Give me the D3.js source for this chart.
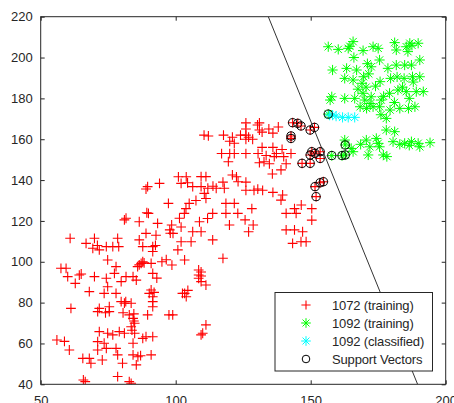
<!DOCTYPE html>
<html>
<head>
<meta charset="utf-8">
<script src="https://cdn.jsdelivr.net/npm/d3@7"></script>
<style>
  body { margin: 0; background: #fff; }
  svg { display: block; font-family: "Liberation Sans", Arial, sans-serif; }
</style>
</head>
<body>
<div id="chart"></div>
<script>
// ---- data ----
const xTicks = [50, 100, 150, 200];
const yTicks = [40, 60, 80, 100, 120, 140, 160, 180, 200, 220];
const legendLabels = ["1072 (training)", "1092 (training)", "1092 (classified)", "Support Vectors"];

// 1072 training points [x, y]
const train1072 = [
  [112.1,161.6],[110.5,162],[117.7,162],[121,161],[120,159],[121.7,158],[126,168],[126,165],[126,162],[124,162],
  [126,160],[127,161],[131,168],[130.3,167],[131,164.5],[132,163.5],[136,163],[138,166],[134.5,165],[128.5,160],
  [117,153],[120,153],[121.7,153],[119.5,149],[126,153],[130.5,153],[132,156],[131,148.5],[132.7,149],[136,156],
  [137.3,153],[139.4,155],[136.5,151.5],[135.8,143],[139,145],[140.9,148],[142.7,153],[140,151.5],[133.5,152],[134.7,148],
  [101,141.6],[103.9,141.6],[102,138.4],[104.4,138.7],[106.3,136.8],[109.4,141.7],[111.2,141.7],[109.4,136.8],[111.9,136],[113.8,137],
  [115,136],[118,136],[117.5,139],[121,142.5],[122.5,141.6],[123.1,139.2],[126,139],[126,135],[129,135],[132.2,135],
  [130.4,135.6],[136,134],[139.6,132.7],[139,130.2],[110.6,133.5],[111.2,131],[107.5,130],[105,128.6],[103.8,126],[103.2,123.7],
  [101.4,121.3],[102,117],[97.3,128.6],[89.6,136.8],[89,135.6],[94,138.4],[113.7,123.7],[111.8,121.2],[108.8,119.6],[106.3,114.7],
  [105.7,109.8],[109.4,114.7],[113.7,110.7],[118.6,128.6],[121.7,128.6],[118.6,123.7],[123,123.7],[119.9,118],[125.7,120.5],[128.2,126],
  [128.7,118],[127,114.7],[117.5,101.7],[140.9,123.7],[144,126],[144.6,123.7],[146.5,127.8],[150.4,126],[150.4,120.4],[140.9,115.6],
  [144,115.6],[147,114.7],[143.3,109],[146.4,109.8],[148.3,109.8],
  [81,120.5],[81.6,121.3],[86.5,119.6],[89.9,123.7],[89.3,124],[93.3,118.8],[92.7,113],[89,113.9],[86.5,110.7],[87.8,107.4],
  [91.5,107.4],[98.5,118],[99,113.9],[97.8,115.6],[102,109.8],[100.8,105.8],[103.3,100.9],[98.6,98.4],[94.9,100],[91.5,105],
  [90.9,99.2],[91.5,94.3],[87.2,99.2],[85.9,97.6],[86.5,98.5],[87.8,100],[88.3,99.5],[84.2,92.7],[85.4,91],[81.6,92.7],
  [79.8,90.3],[77.3,94.3],[77.9,97.6],[74.8,100.9],[71.7,105.8],[74.3,107.4],[76.7,107.4],[78.9,107.4],[78.5,111.5],[69.9,111.5],
  [66.8,109],[69.3,106.6],[60.9,111.5],[57.5,96.8],[59.4,96.8],[60,92.7],[64.3,93.5],[62.8,89.4],[68,85.4],[69.9,92.7],
  [74.3,91.9],[74.8,87.8],[73.5,84.5],[77.9,84.5],[79.8,80.5],[81,79.7],[83.5,79.7],[75.4,78],[71.7,77.2],[71.1,75.6],
  [75.4,75.6],[61.2,77.2],[82.8,74],[84.2,72.3],[84.8,69.9],[83.5,68.2],[84.5,71],[89.6,74],[90.9,86.2],[91.5,82.9],
  [91.5,80.5],[91.5,78],[90.2,84.5],[92,85],[98.9,74],[97.5,74],[103.3,84.5],[103.9,82.9],[102.5,84.5],[108.5,96],
  [108.5,93.5],[108.5,91.9],[109.4,95],[109.4,93],[109.4,90.3],[111.2,88.6],[109.4,64.2],[110,65],[111.2,69.1],[74.8,65],
  [71.7,65.8],[71.1,60.9],[73.5,60.1],[76.7,64.2],[79.1,65.8],[81,65],[84.8,65],[84.2,60.1],[89,63.3],[91.5,63.3],
  [87.8,62.5],[84.2,54.4],[86,53.5],[87,54],[90.9,54.4],[85.4,49.5],[78.5,54.4],[80.3,50.3],[74.3,57.6],[71.1,56.8],
  [68,52.7],[65.6,52.7],[68.6,50.3],[72.8,51.9],[60.6,56.8],[58.8,61],[56,61.7],[65.8,42.1],[66.5,41.3],[78.5,43.8],
  [82.8,41.3],[83.5,40.5],[77.9,57.6],[84.5,74.5],[83.8,66.5],[81.5,80.5],[80.5,75],[74,75],[71,108],[65,94],
  [96.5,101],[93,92],[98,114],[92.5,108],[104.5,86],
  // red points inside support vector circles
  [143.3,168.1],[145.2,167.8],[146.4,166.5],[142.7,161.6],[142.7,160.4],[149.8,164.5],[151.4,165.8],[150.4,153.9],[151.6,153.1],[153.5,153.9],
  [149.8,152.3],[153.5,150.6],[146.8,148.2],[149.8,148.2],[151.6,136.8],[153.5,138.7],[154.7,139.2],[152,131.9]
];

// 1092 training points [x, y]
const train1092 = [
  [156.5,205.3],[160.2,204],[163.9,204.5],[164.5,205.5],[165.7,207.8],[169.4,203.4],[173.1,205.3],[175,204.5],[181.1,207.3],[181.7,203.7],
  [185.4,205.3],[186.7,207],[186,202.9],[189.8,207],[187.5,206],
  [158.1,193.9],[163.3,194.7],[167,193.9],[172.4,195.5],[175.5,198.8],[178.6,194.7],[181.7,196.3],[184.8,196.3],[187.3,196.3],[190.4,198.8],
  [190.4,190.6],[175.7,188.2],[179.6,189.8],[184.6,189.8],[187.7,190.6],[162.6,189.8],[165.7,189],[169.6,190.6],[169,187.4],[171.5,192],
  [157.2,179.2],[157.8,180.8],[162.6,180],[166.3,180],[169.4,182.5],[170,179.2],[172.4,180.8],[176.1,179.2],[179.2,182.5],[182.3,184.1],
  [185.4,183.3],[189.1,183.3],[191.7,183.3],[168.3,175.9],[170.7,175.1],[173.1,175.9],[175.5,175.9],[179.4,174.3],[183,175.1],[186.2,175.1],
  [188.6,175.9],[178,170.2],[178,164.5],[181.1,163.7],[167.5,184.5],[174,186],[177,181],
  [170.5,185.5],[182,190.5],[186.5,180],[176,172],[172,177.5],[181,178],[184,185.5],[188,188],[171,197],[166,200],
  [162.6,159.6],[165,155.5],[165.7,153.9],[170.6,159.6],[171.9,156.3],[171.3,152.3],[175,158],[176.9,152.3],[178.2,151.5],[180.5,158.8],
  [184.8,158],[187.3,158.8],[189.8,158],[190.4,156.3],[194.2,158.3],[174.3,160.4],[175.5,156.3],[168.5,157.5],[183,157.5],[186.5,157],
  // inside support vector circles
  [157.8,152],[161.6,152],[162.8,152.3],[162.8,157.2],[156.5,172.3]
];

// 1092 classified points [x, y]
const classified1092 = [[157,171.8],[158.1,171.8],[159.4,171.3],[161.8,170.7],[163.9,170.7],[166.3,170.7]];

// support vectors [x, y]
const supportVectors = [
  [143.3,168.1],[145.2,167.8],[146.4,166.5],[142.7,161.6],[142.7,160.4],[149.8,164.5],[151.4,165.8],[150.4,153.9],[151.6,153.1],[153.5,153.9],
  [149.8,152.3],[153.5,150.6],[146.8,148.2],[149.8,148.2],[151.6,136.8],[153.5,138.7],[154.7,139.2],[152,131.9],
  [157.8,152],[161.6,152],[162.8,152.3],[162.8,157.2],[156.5,172.3]
];

// separating boundary [x, y]
const boundary = [[134.3,220],[189.6,40]];

// ---- layout ----
const W = 454, H = 403;
const x = d3.scaleLinear().domain([50, 200]).range([40.7, 445.7]);
const y = d3.scaleLinear().domain([40, 220]).range([384.3, 16.7]);
const ink = "#262626";

const svg = d3.select("#chart").append("svg").attr("width", W).attr("height", H);

// clip to the plot box
svg.append("defs").append("clipPath").attr("id", "plotClip")
  .append("rect").attr("x", x(50)).attr("y", y(220))
  .attr("width", x(200) - x(50)).attr("height", y(40) - y(220));

const plot = svg.append("g").attr("clip-path", "url(#plotClip)");

// marker paths
function plusPath(s) { return `M${-s},0H${s}M0,${-s}V${s}`; }
function starPath(s) {
  const d = s * 0.72;
  return `M${-s},0H${s}M0,${-s}V${s}M${-d},${-d}L${d},${d}M${-d},${d}L${d},${-d}`;
}

// boundary line
plot.append("path")
  .attr("d", d3.line().x(d => x(d[0])).y(d => y(d[1]))(boundary))
  .attr("fill", "none").attr("stroke", "#333").attr("stroke-width", 1);

// 1072 training
plot.append("g").selectAll("path").data(train1072).join("path")
  .attr("transform", d => `translate(${x(d[0])},${y(d[1])})`)
  .attr("d", plusPath(4.9))
  .attr("stroke", "#ff0000").attr("stroke-width", 1.1).attr("fill", "none");

// 1092 training
plot.append("g").selectAll("path").data(train1092).join("path")
  .attr("transform", d => `translate(${x(d[0])},${y(d[1])})`)
  .attr("d", starPath(5.1))
  .attr("stroke", "#00ff00").attr("stroke-width", 1).attr("fill", "none");

// 1092 classified
plot.append("g").selectAll("path").data(classified1092).join("path")
  .attr("transform", d => `translate(${x(d[0])},${y(d[1])})`)
  .attr("d", starPath(5.1))
  .attr("stroke", "#00ffff").attr("stroke-width", 1).attr("fill", "none");

// support vectors
plot.append("g").selectAll("circle").data(supportVectors).join("circle")
  .attr("cx", d => x(d[0])).attr("cy", d => y(d[1])).attr("r", 4.1)
  .attr("stroke", "#000").attr("stroke-width", 1).attr("fill", "none");

// ---- axes (inward ticks, box) ----
function styleAxis(g) {
  g.select(".domain").remove();
  g.selectAll(".tick line").attr("stroke", ink);
  g.selectAll(".tick text").attr("fill", ink).style("font-size", "13px")
    .style("font-family", "'Liberation Sans', Arial, sans-serif");
}

svg.append("g").attr("transform", `translate(0,${y(40)})`)
  .call(d3.axisBottom(x).tickValues(xTicks).tickSize(-4).tickPadding(11))
  .call(styleAxis);
svg.append("g").attr("transform", `translate(0,${y(220)})`)
  .call(d3.axisTop(x).tickValues(xTicks).tickSize(-4).tickFormat(""))
  .call(styleAxis);
svg.append("g").attr("transform", `translate(${x(50)},0)`)
  .call(d3.axisLeft(y).tickValues(yTicks).tickSize(-4).tickPadding(8))
  .call(styleAxis);
svg.append("g").attr("transform", `translate(${x(200)},0)`)
  .call(d3.axisRight(y).tickValues(yTicks).tickSize(-4).tickFormat(""))
  .call(styleAxis);

svg.append("rect")
  .attr("x", x(50)).attr("y", y(220))
  .attr("width", x(200) - x(50)).attr("height", y(40) - y(220))
  .attr("fill", "none").attr("stroke", ink).attr("stroke-width", 1);

// ---- legend ----
const legend = svg.append("g").attr("transform", "translate(275,292.5)");
legend.append("rect").attr("width", 157.5).attr("height", 78.5)
  .attr("fill", "#fff").attr("stroke", ink).attr("stroke-width", 1);

const rowY = [12.5, 30.5, 48.5, 66.5];
const item = legend.selectAll("g.item").data(legendLabels).join("g")
  .attr("class", "item")
  .attr("transform", (d, i) => `translate(0,${rowY[i]})`);

item.each(function (d, i) {
  const g = d3.select(this);
  if (i === 0) {
    g.append("path").attr("transform", "translate(31,0)").attr("d", plusPath(4.6))
      .attr("stroke", "#ff0000").attr("stroke-width", 1.1).attr("fill", "none");
  } else if (i === 3) {
    g.append("circle").attr("cx", 31).attr("cy", 0).attr("r", 3.8)
      .attr("stroke", "#000").attr("fill", "none");
  } else {
    g.append("path").attr("transform", "translate(31,0)").attr("d", starPath(4.8))
      .attr("stroke", i === 1 ? "#00ff00" : "#00ffff").attr("stroke-width", 1).attr("fill", "none");
  }
  g.append("text").attr("x", 57).attr("y", 0).attr("dy", "0.36em")
    .attr("fill", ink).style("font-size", "13px").style("letter-spacing", "-0.15px")
    .text(d);
});
</script>
</body>
</html>
